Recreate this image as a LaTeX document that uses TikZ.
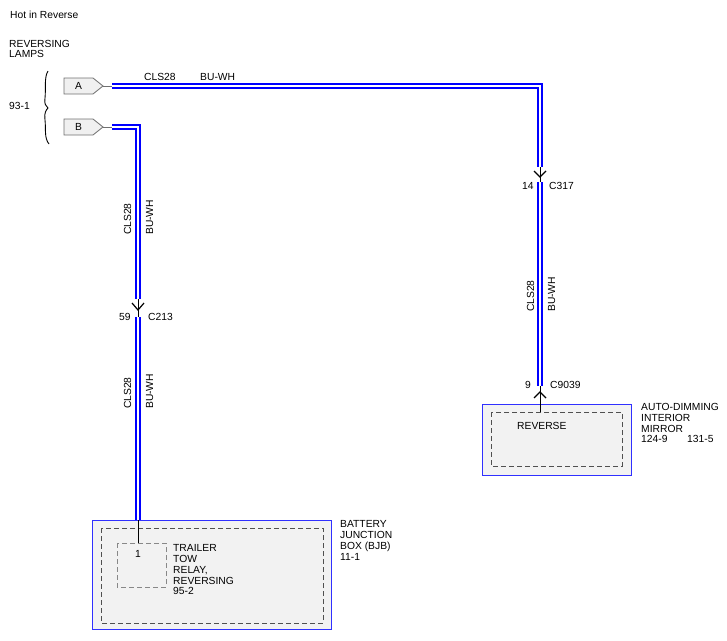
\documentclass[tikz,border=0pt]{standalone}
\usepackage{fontspec}
\setmainfont{Liberation Sans}
\definecolor{wireblue}{HTML}{0000FF}
\definecolor{boxfill}{HTML}{F2F2F2}
\definecolor{boxblue}{HTML}{3030FF}
\definecolor{pentfill}{HTML}{F0F0F0}
\definecolor{pentdraw}{HTML}{707070}
\definecolor{dashdark}{HTML}{505050}
\definecolor{dashlight}{HTML}{888888}
\begin{document}
\begin{tikzpicture}[x=1pt,y=-1pt,
  lbl/.style={font=\fontsize{10.3}{11}\selectfont, inner sep=0pt, anchor=base west},
  vlbl/.style={lbl, rotate=90},
  wire/.style={draw=wireblue, line width=2pt, double=white, double distance=1.4pt, line join=miter},
  thinline/.style={draw=black, line width=0.8pt},
  chev/.style={draw=black, line width=1.2pt},
  pent/.style={fill=pentfill, draw=pentdraw, line width=0.8pt},
  outerbox/.style={fill=boxfill, draw=boxblue, line width=0.8pt},
  dashbox/.style={draw=dashdark, line width=0.9pt, dash pattern=on 5pt off 3pt},
  dashboxlight/.style={draw=dashlight, line width=0.8pt, dash pattern=on 5pt off 3pt}
]
\useasboundingbox (0,0) rectangle (727,640);

% header texts
\node[lbl] (title) at (10,18) {Hot in Reverse};
\node[lbl] (rl1) at (9,47) {REVERSING};
\node[lbl] (rl2) at (9,57) {LAMPS};
\node[lbl] (rlref) at (9,109) {93-1};

% brace
\draw[line width=0.9pt] (48,71) .. controls (44,77) and (46,90) .. (45,98)
  .. controls (44,104) and (46,106) .. (48,108)
  .. controls (46,110) and (44,113) .. (45,120)
  .. controls (46,128) and (44,138) .. (49,144);

% connector pins
\draw[pent] (64,78) -- (93,78) -- (103,86) -- (93,94) -- (64,94) -- cycle;
\node[font=\fontsize{10.3}{11}\selectfont, inner sep=0pt] (pinA) at (78.5,86) {A};
\coordinate (tipA) at (103,86);
\coordinate (wAstart) at (112,86);
\draw[pent] (64,119) -- (93,119) -- (103,127) -- (93,135) -- (64,135) -- cycle;
\node[font=\fontsize{10.3}{11}\selectfont, inner sep=0pt] (pinB) at (78.5,127) {B};
\coordinate (tipB) at (103,127);
\coordinate (wBstart) at (112,127);
\draw[draw=pentdraw, line width=0.8pt] (tipA) -- (wAstart);
\draw[draw=pentdraw, line width=0.8pt] (tipB) -- (wBstart);

% wire A to C317
\coordinate (cornerA) at (540,86);
\coordinate (c317top) at (540,167);
\coordinate (c317bot) at (540,182);
\draw[wire] (wAstart) -- (cornerA) -- (c317top);
\node[lbl] (wAcls) at (144,80) {CLS28};
\node[lbl] (wAbu) at (200,80) {BU-WH};
\draw[thinline] (c317top) -- (c317bot);
\draw[chev] (534,171) -- (540,177) -- (546,171);
\node[lbl] (c317pin) at (522,189) {14};
\node[lbl] (c317name) at (549,189) {C317};

% wire C317 to C9039
\coordinate (c9039top) at (540,386);
\draw[wire] (c317bot) -- (c9039top);
\node[vlbl] (wRcls) at (534,312) {CLS28};
\node[vlbl] (wRbu) at (555,312) {BU-WH};
\node[lbl] (c9039pin) at (525,388) {9};
\node[lbl] (c9039name) at (550,388) {C9039};

% mirror box
\draw[outerbox] (482,404) rectangle (631,475);
\draw[dashbox] (491,412) rectangle (622,466);
\coordinate (mirrorin) at (540,412);
\draw[thinline] (c9039top) -- (mirrorin);
\draw[chev] (534,398) -- (540,392) -- (546,398);
\node[lbl] (reverse) at (517,429) {REVERSE};
\node[lbl] (m1) at (641,410) {AUTO-DIMMING};
\node[lbl] (m2) at (641,421) {INTERIOR};
\node[lbl] (m3) at (641,432) {MIRROR};
\node[lbl] (m4) at (641,442) {124-9};
\node[lbl] (m5) at (687,442) {131-5};

% wire B to C213
\coordinate (cornerB) at (138,127);
\coordinate (c213top) at (138,299);
\coordinate (c213bot) at (138,317);
\draw[wire] (wBstart) -- (cornerB) -- (c213top);
\node[vlbl] (wB1cls) at (131,235) {CLS28};
\node[vlbl] (wB1bu) at (153,235) {BU-WH};
\draw[thinline] (c213top) -- (c213bot);
\draw[chev] (132,303) -- (138,310) -- (144,303);
\node[lbl] (c213pin) at (119,320) {59};
\node[lbl] (c213name) at (148,320) {C213};

% wire C213 to BJB
\coordinate (bjbtop) at (138,520);
\coordinate (relaytop) at (138,543);
\draw[wire] (c213bot) -- (bjbtop);
\node[vlbl] (wB2cls) at (131,409) {CLS28};
\node[vlbl] (wB2bu) at (153,409) {BU-WH};

% BJB box
\draw[outerbox] (92,520) rectangle (331,629);
\draw[dashbox] (101,528) rectangle (323,623);
\draw[dashboxlight] (117,543) rectangle (166,587);
\draw[thinline] (bjbtop) -- (relaytop);
\node[lbl] (relaypin) at (135,557) {1};
\node[lbl] (r1) at (173,551) {TRAILER};
\node[lbl] (r2) at (173,562) {TOW};
\node[lbl] (r3) at (173,573) {RELAY,};
\node[lbl] (r4) at (173,584) {REVERSING};
\node[lbl] (r5) at (173,594) {95-2};
\node[lbl] (b1) at (340,527) {BATTERY};
\node[lbl] (b2) at (340,538) {JUNCTION};
\node[lbl] (b3) at (340,549) {BOX (BJB)};
\node[lbl] (b4) at (340,560) {11-1};
\end{tikzpicture}
\end{document}
